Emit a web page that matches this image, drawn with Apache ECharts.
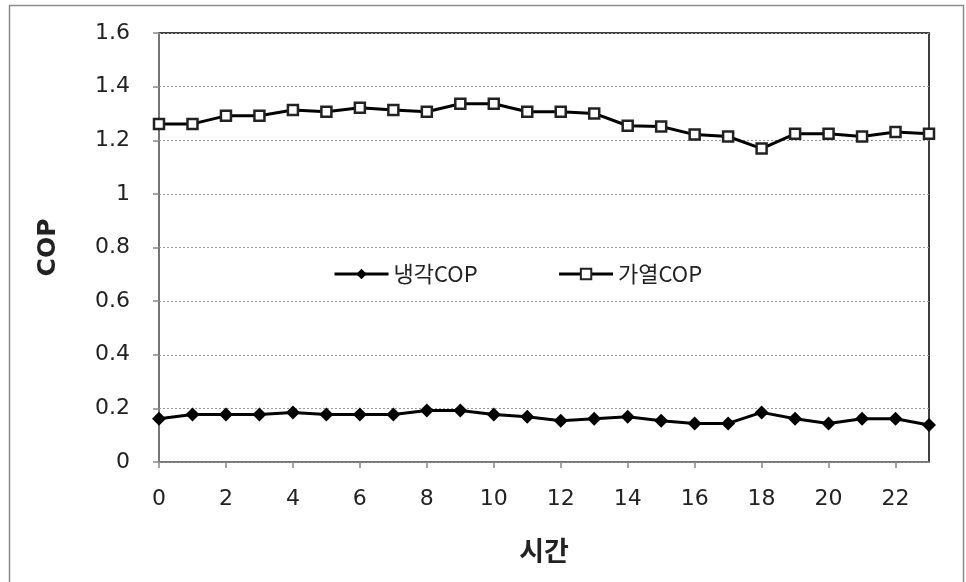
<!DOCTYPE html>
<html>
<head>
<meta charset="utf-8">
<script src="https://cdn.jsdelivr.net/npm/echarts@6/dist/echarts.min.js"></script>
<style>
  html, body { margin: 0; padding: 0; background: #fff; }
  #chart { width: 966px; height: 582px; }
</style>
</head>
<body>
<div id="chart"></div>
<script>
// hours 0..23
const hours = ['0','1','2','3','4','5','6','7','8','9','10','11','12','13','14','15','16','17','18','19','20','21','22','23'];

// cooling COP (냉각COP)
const coolingCop = [0.161, 0.177, 0.177, 0.177, 0.185, 0.177, 0.177, 0.177, 0.192, 0.192, 0.177, 0.169,
                    0.154, 0.161, 0.169, 0.154, 0.144, 0.144, 0.185, 0.161, 0.144, 0.161, 0.161, 0.138];

// heating COP (가열COP)
const heatingCop = [1.261, 1.261, 1.291, 1.291, 1.313, 1.306, 1.321, 1.313, 1.306, 1.336, 1.336, 1.306,
                    1.306, 1.300, 1.254, 1.251, 1.221, 1.214, 1.169, 1.224, 1.224, 1.214, 1.231, 1.224];

const font = '"DejaVu Sans", "Noto Sans CJK KR", sans-serif';
const krFont = '"Noto Sans CJK KR", sans-serif';

const chart = echarts.init(document.getElementById('chart'));

const option = {
    backgroundColor: '#fff',
    animation: false,
    textStyle: { fontFamily: font },
    // outer frame of the picture
    graphic: [{
        type: 'rect',
        shape: { x: 9.5, y: 5.5, width: 954, height: 600 },
        style: { fill: 'none', stroke: '#8c8c8c', lineWidth: 1.5 },
        z: -1
    }],
    grid: {
        left: 159, right: 37, top: 33, bottom: 120,
        show: true,
        borderColor: '#000',
        borderWidth: 1.5
    },
    legend: {
        left: 328, top: 258,
        itemWidth: 54, itemHeight: 13,
        itemGap: 80,
        lineStyle: { width: 3 },
        textStyle: { fontSize: 22, color: '#222', fontFamily: krFont },
        data: ['냉각COP', '가열COP']
    },
    xAxis: {
        type: 'category',
        data: hours,
        boundaryGap: false,
        name: '시간',
        nameLocation: 'middle',
        nameGap: 75,
        nameTextStyle: { fontSize: 27, fontWeight: 'bold', color: '#222', fontFamily: krFont },
        axisLine: { lineStyle: { color: '#888', width: 1.5 } },
        axisTick: { interval: 1, length: 6, lineStyle: { color: '#888', width: 1.5 } },
        axisLabel: { interval: 1, fontSize: 22, color: '#222', margin: 26 },
        splitLine: { show: false }
    },
    yAxis: {
        type: 'value',
        min: 0, max: 1.6, interval: 0.2,
        name: 'COP',
        nameLocation: 'middle',
        nameGap: 98,
        nameRotate: 90,
        nameTextStyle: { fontSize: 25, fontWeight: 'bold', color: '#222' },
        axisLine: { show: true, lineStyle: { color: '#888', width: 1.5 } },
        axisTick: { show: true, inside: false, length: 6, lineStyle: { color: '#888', width: 1.5 } },
        axisLabel: { fontSize: 22, color: '#222', margin: 29 },
        splitLine: { lineStyle: { color: '#999', type: [2, 2], width: 1 } }
    },
    series: [
        {
            name: '냉각COP',
            type: 'line',
            data: coolingCop,
            symbol: 'diamond',
            symbolSize: 14,
            itemStyle: { color: '#000' },
            lineStyle: { color: '#000', width: 3 }
        },
        {
            name: '가열COP',
            type: 'line',
            data: heatingCop,
            symbol: 'rect',
            symbolSize: 10,
            itemStyle: { color: '#fff', borderColor: '#222', borderWidth: 2.5 },
            lineStyle: { color: '#000', width: 3 }
        }
    ]
};

chart.setOption(option);
window.addEventListener('resize', chart.resize);
</script>
</body>
</html>
